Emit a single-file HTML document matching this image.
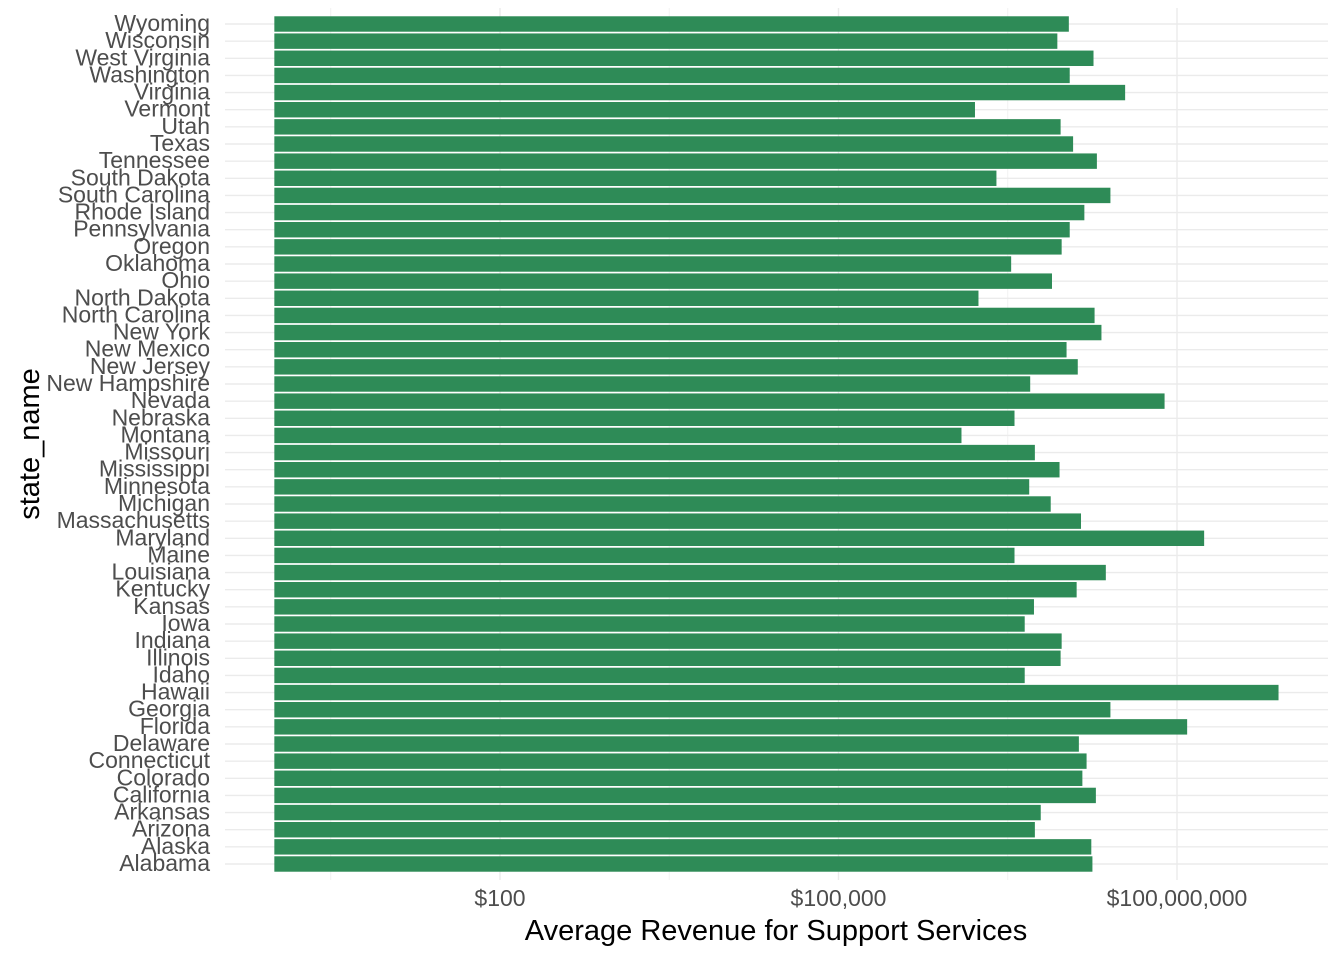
<!DOCTYPE html>
<html><head><meta charset="utf-8"><style>
html,body{margin:0;padding:0;background:#fff;}
svg{display:block;font-family:"Liberation Sans",Arial,sans-serif;}
</style></head><body>
<svg id="chart" width="1344" height="960" viewBox="0 0 1344 960" xmlns="http://www.w3.org/2000/svg">
<g id="grid"></g>
<g id="bars"></g>
<g id="ylabels"></g>
<g id="xlabels"></g>
<text x="776" y="940" font-size="29" text-anchor="middle" fill="#000">Average Revenue for Support Services</text>
<text transform="translate(39,444) rotate(-90)" font-size="29" text-anchor="middle" fill="#000">state_name</text>
</svg>
<script>
const states = ["Wyoming","Wisconsin","West Virginia","Washington","Virginia","Vermont","Utah","Texas","Tennessee","South Dakota","South Carolina","Rhode Island","Pennsylvania","Oregon","Oklahoma","Ohio","North Dakota","North Carolina","New York","New Mexico","New Jersey","New Hampshire","Nevada","Nebraska","Montana","Missouri","Mississippi","Minnesota","Michigan","Massachusetts","Maryland","Maine","Louisiana","Kentucky","Kansas","Iowa","Indiana","Illinois","Idaho","Hawaii","Georgia","Florida","Delaware","Connecticut","Colorado","California","Arkansas","Arizona","Alaska","Alabama"];
const revenue = [1.10e7,8.7e6,1.82e7,1.12e7,3.47e7,1.62e6,9.3e6,1.20e7,1.95e7,2.51e6,2.57e7,1.51e7,1.12e7,9.5e6,3.39e6,7.8e6,1.74e6,1.86e7,2.14e7,1.05e7,1.32e7,5.0e6,7.76e7,3.63e6,1.23e6,5.5e6,9.1e6,4.9e6,7.6e6,1.41e7,1.74e8,3.63e6,2.34e7,1.29e7,5.4e6,4.47e6,9.5e6,9.3e6,4.47e6,7.94e8,2.57e7,1.23e8,1.35e7,1.58e7,1.45e7,1.91e7,6.2e6,5.5e6,1.74e7,1.78e7];
const tickValues = [100,100000,100000000];
const tickLabels = ["$100","$100,000","$100,000,000"];
const minorValues = [3.16, 3162, 3162278];

const NS="http://www.w3.org/2000/svg";
const pxPerDecade=(1177-500)/6;
function xs(v){return 500+(Math.log10(v)-2)*pxPerDecade;}
const rowTop=24, rowStep=(864-24)/49;
function ys(i){return rowTop+i*rowStep;}
const panelL=225, panelR=1328, panelT=8, panelB=880;
function mk(tag,attrs,parent){const e=document.createElementNS(NS,tag);for(const k in attrs)e.setAttribute(k,attrs[k]);parent.appendChild(e);return e;}
const grid=document.getElementById('grid');
minorValues.forEach(v=>{const x=xs(v);if(x>panelL&&x<panelR){const l=mk('line',{x1:x,x2:x,y1:panelT,y2:panelB,stroke:'#f2f2f2','stroke-width':1},grid);

}});
tickValues.forEach(v=>{const x=xs(v);const l=mk('line',{x1:x,x2:x,y1:panelT,y2:panelB,stroke:'#ebebeb','stroke-width':1.4},grid);

});
states.forEach((s,i)=>{const l=mk('line',{x1:panelL,x2:panelR,y1:ys(i),y2:ys(i),stroke:'#ebebeb','stroke-width':1.4},grid);

});
const bars=document.getElementById('bars');
const bh=rowStep*0.9;
const x0=xs(1);
revenue.forEach((v,i)=>{const r=mk('rect',{x:x0,y:ys(i)-bh/2,width:xs(v)-x0,height:bh,fill:'#2e8b57'},bars);

});
const yl=document.getElementById('ylabels');
states.forEach((s,i)=>{const t=mk('text',{x:210,y:ys(i)+7,'font-size':23,'text-anchor':'end',fill:'#4d4d4d'},yl);t.textContent=s;

});
const xl=document.getElementById('xlabels');
tickValues.forEach((v,i)=>{const t=mk('text',{x:xs(v),y:906,'font-size':23,'text-anchor':'middle',fill:'#4d4d4d'},xl);t.textContent=tickLabels[i];

});
</script>
</body></html>
